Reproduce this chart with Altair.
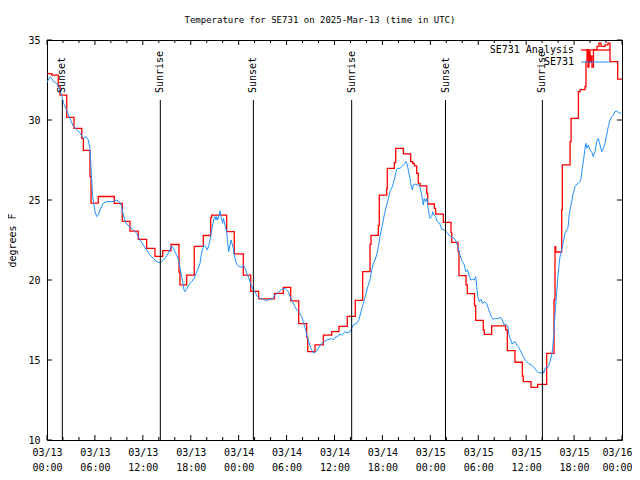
import altair as alt
import pandas as pd

FONT = "DejaVu Sans Mono"

title_text = "Temperature for SE731 on 2025-Mar-13 (time in UTC)"

# Hours since 2025-03-13 00:00 UTC
red_t = [0, 0.59, 1.41, 1.63, 2.47, 3.38, 4.35, 4.55, 5.38, 5.51,
         6.42, 8.43, 9.43, 10.39, 11.43, 12.48, 13.52, 14.49, 15.53, 16.53,
         16.65, 17.49, 18.44, 19.57, 20.5, 20.62, 22.5, 23.45, 24.58, 25.51,
         26.51, 28.49, 29.59, 30.52, 31.52, 32.52, 32.65, 33.56, 34.6, 35.65,
         36.56, 37.6, 38.6, 39.53, 40.45, 40.57, 41.49, 41.61, 42.54, 42.61,
         43.49, 43.66, 44.62, 45.54, 45.79, 45.99, 46.29, 46.49, 46.71, 47.55,
         47.67, 48.5, 48.67, 49.63, 50.59, 50.68, 51.47, 51.59, 52.47, 52.63,
         53.53, 53.68, 54.63, 54.76, 55.68, 57.44, 57.64, 58.6, 59.52, 59.64,
         60.61, 61.44, 62.57, 63.49, 63.61, 63.7, 64.45, 64.53, 65.5, 65.62,
         66.54, 66.76, 67.37, 67.49, 67.62, 67.74, 67.87, 67.99, 68.12, 68.24,
         68.43, 68.87, 69.12, 69.37, 69.62, 69.87, 70.25, 70.5, 71.46, 72]
red_v = [32.9, 32.8, 32.1, 31.55, 30.17, 29.48, 28.85, 28.1, 26.46, 24.8,
         25.22, 24.79, 23.67, 23.06, 22.54, 21.98, 21.48, 21.83, 22.22, 20.5,
         19.69, 20.31, 22.1, 22.78, 23.9, 24.06, 23.02, 21.63, 20.31, 19.29,
         18.82, 19.17, 19.54, 18.7, 17.27, 16.42, 15.52, 15.94, 16.56, 16.77,
         17.1, 17.73, 18.73, 20.52, 22.23, 22.79, 23.4, 25.31, 25.73, 26.98,
         27.33, 28.23, 27.88, 27.4, 27.29, 27.13, 26.67, 26.04, 25.88, 25.42,
         24.75, 24.48, 24.12, 23.6, 22.96, 22.35, 21.77, 20.27, 19.7, 19.15,
         18.4, 17.48, 16.88, 16.6, 17.13, 16.88, 15.58, 14.86, 14.0, 13.65,
         13.29, 13.48, 15.42, 18.75, 22.08, 21.75, 24.4, 27.19, 28.65, 30.1,
         31.77, 31.9, 32.08, 33.65, 34.4, 33.3, 34.3, 33.6, 34.0, 33.3,
         34.4, 34.6, 34.8, 34.6, 34.6, 34.7, 34.8, 33.65, 32.55, 32.55]

blue_t = [0, 0.38, 0.59, 0.79, 1.21, 1.41, 1.84, 2.04, 2.47, 2.88,
          3.29, 3.72, 4.13, 4.55, 4.88, 5.17, 5.38, 5.47, 5.6, 5.72,
          6.01, 6.22, 6.42, 6.64, 7.05, 7.48, 8.3, 8.73, 9.05, 9.35,
          9.55, 9.89, 10.39, 10.81, 11.23, 11.65, 12.06, 12.48, 12.9, 13.31,
          13.74, 14.15, 14.36, 14.77, 15.19, 15.61, 15.82, 16.03, 16.32, 16.57,
          16.74, 16.99, 17.16, 17.28, 17.49, 17.69, 17.91, 18.12, 18.41, 18.66,
          18.95, 19.16, 19.28, 19.45, 19.66, 19.87, 20.07, 20.25, 20.41, 20.54,
          20.75, 20.91, 21.04, 21.16, 21.25, 21.37, 21.54, 21.66, 21.79, 21.91,
          22.0, 22.08, 22.2, 22.33, 22.5, 22.63, 22.75, 22.92, 23.04, 23.17,
          23.33, 23.45, 23.63, 23.83, 23.96, 24.38, 24.58, 24.79, 25.01, 25.29,
          25.54, 25.83, 26.13, 26.38, 26.67, 27.09, 27.51, 27.92, 28.34, 28.46,
          28.76, 29.05, 29.39, 29.8, 30.02, 30.22, 30.43, 30.64, 30.84, 31.05,
          31.27, 31.47, 31.68, 31.89, 32.09, 32.22, 32.39, 32.52, 32.72, 32.93,
          33.15, 33.35, 33.56, 33.77, 33.97, 34.18, 34.4, 34.72, 35.02, 35.31,
          35.65, 35.85, 36.06, 36.28, 36.48, 36.69, 36.9, 37.1, 37.32, 37.57,
          37.94, 38.15, 38.35, 38.78, 39.07, 39.32, 39.61, 39.91, 40.16, 40.45,
          40.66, 40.86, 41.07, 41.28, 41.49, 41.7, 41.91, 42.11, 42.32, 42.54,
          42.74, 42.95, 43.16, 43.36, 43.58, 43.7, 43.86, 44.2, 44.41, 44.62,
          44.83, 44.95, 45.12, 45.24, 45.45, 45.58, 45.74, 45.87, 46.08, 46.42,
          46.58, 46.74, 46.92, 47.12, 47.25, 47.42, 47.58, 47.75, 47.96, 48.17,
          48.3, 48.46, 48.67, 48.87, 49.21, 49.42, 49.75, 50.05, 50.34, 50.68,
          51.0, 51.21, 51.43, 51.59, 51.84, 52.0, 52.26, 52.43, 52.68, 52.88,
          53.09, 53.31, 53.51, 53.68, 53.81, 53.94, 54.14, 54.35, 54.56, 54.76,
          55.06, 55.26, 55.47, 55.68, 55.89, 56.19, 56.52, 56.81, 57.02, 57.23,
          57.44, 57.69, 57.85, 58.06, 58.27, 58.39, 58.6, 58.82, 59.02, 59.23,
          59.44, 59.64, 59.85, 60.06, 60.27, 60.48, 60.69, 60.89, 61.1, 61.31,
          61.52, 61.73, 61.94, 62.07, 62.2, 62.36, 62.7, 62.86, 62.98, 63.2,
          63.32, 63.45, 63.52, 63.61, 63.73, 63.86, 63.99, 64.11, 64.24, 64.36,
          64.53, 64.7, 64.86, 65.08, 65.2, 65.28, 65.36, 65.49, 65.7, 65.9,
          66.12, 66.33, 66.53, 66.74, 66.87, 67.03, 67.21, 67.37, 67.49, 67.62,
          67.78, 67.99, 68.2, 68.4, 68.62, 68.83, 69.03, 69.25, 69.46, 69.66,
          69.87, 70.08, 70.28, 70.5, 70.71, 70.91, 71.12, 71.33, 71.54, 71.87]
blue_v = [32.35, 32.7, 32.6, 32.4, 32.3, 32.1, 31.56, 31.1, 30.6, 30.1,
          29.6, 29.4, 29.2, 28.85, 28.96, 28.75, 28.2, 27.4, 26.25, 25.2,
          24.27, 23.96, 24.06, 24.38, 24.8, 24.9, 24.9, 25.0, 24.9, 24.58,
          24.06, 23.54, 23.33, 23.13, 22.92, 22.5, 22.19, 21.88, 21.56, 21.35,
          21.15, 21.08, 21.15, 21.35, 21.67, 22.13, 21.98, 21.77, 21.46, 21.04,
          20.52, 19.9, 19.38, 19.27, 19.42, 19.63, 19.79, 19.9, 20.1, 20.42,
          20.73, 21.04, 21.46, 21.88, 22.19, 22.08, 21.88, 22.13, 22.5, 22.92,
          23.44, 23.85, 23.96, 23.75, 23.96, 23.75, 24.0, 24.33, 23.96, 23.75,
          23.54, 23.85, 23.65, 23.33, 23.02, 22.29, 21.77, 22.19, 22.5, 22.29,
          21.98, 21.56, 21.15, 20.94, 20.88, 20.79, 20.94, 20.73, 20.42, 20.1,
          19.69, 19.38, 19.17, 18.96, 18.85, 18.79, 18.71, 18.79, 18.85, 19.06,
          19.13, 19.27, 19.42, 19.48, 19.38, 19.27, 18.96, 18.75, 18.54, 18.33,
          18.13, 18.02, 17.92, 17.71, 17.4, 17.19, 16.88, 16.56, 16.25, 15.88,
          15.63, 15.46, 15.46, 15.58, 15.73, 15.88, 16.04, 16.15, 16.25, 16.29,
          16.35, 16.25, 16.42, 16.46, 16.5, 16.63, 16.56, 16.67, 16.77, 16.7,
          16.77, 16.98, 17.19, 17.29, 17.54, 18.02, 18.54, 19.06, 19.58, 20.0,
          20.63, 21.04, 21.25, 21.56, 22.08, 22.71, 23.23, 23.75, 24.27, 24.69,
          25.1, 25.52, 25.73, 26.04, 26.46, 26.77, 26.98, 26.98, 27.08, 27.19,
          27.29, 27.4, 27.19, 26.88, 26.35, 25.94, 25.63, 25.94, 26.0, 25.94,
          25.94, 25.73, 25.31, 24.69, 25.1, 24.9, 25.1, 24.38, 23.85, 23.96,
          24.27, 24.06, 23.96, 23.65, 23.5, 23.17, 23.13, 22.96, 22.81, 22.67,
          22.6, 22.44, 22.08, 21.77, 21.35, 21.15, 20.94, 20.52, 20.63, 20.21,
          20.0, 20.04, 20.0, 20.21, 19.58, 18.96, 18.65, 18.79, 18.54, 18.65,
          18.54, 18.23, 17.92, 17.67, 17.54, 17.6, 17.6, 17.67, 17.5, 17.19,
          17.25, 17.13, 16.56, 16.25, 16.0, 16.08, 16.15, 15.94, 15.83, 15.63,
          15.42, 15.21, 15.04, 14.9, 14.79, 14.73, 14.69, 14.58, 14.48, 14.31,
          14.21, 14.21, 14.17, 14.33, 14.17, 14.48, 14.52, 14.69, 14.9, 15.31,
          15.73, 16.56, 17.08, 17.81, 18.65, 19.48, 20.31, 20.94, 21.46, 21.67,
          22.08, 22.5, 22.92, 23.13, 23.23, 23.44, 23.96, 24.38, 24.9, 25.42,
          25.83, 25.98, 26.04, 26.15, 26.35, 26.98, 27.6, 28.23, 28.54, 28.23,
          28.44, 28.13, 28.02, 27.71, 28.02, 28.65, 28.85, 28.44, 28.02, 28.23,
          28.54, 29.06, 29.58, 30.0, 30.21, 30.31, 30.52, 30.56, 30.48, 30.42]

sun_t = [1.92, 14.19, 25.84, 38.15, 49.9, 62.03]
sun_label = ["Sunset", "Sunrise", "Sunset", "Sunrise", "Sunset", "Sunrise"]

major_ticks = [0, 6, 12, 18, 24, 30, 36, 42, 48, 54, 60, 66, 72]
minor_ticks = [2, 4, 8, 10, 14, 16, 20, 22, 26, 28, 32, 34, 38, 40, 44, 46, 50, 52, 56, 58, 62, 64, 68, 70]
y_ticks = [10, 15, 20, 25, 30, 35]

legend_names = ["SE731 Analysis", "SE731"]
legend_colors = ["#ff0000", "#1e90ff"]

assert len(red_t) == len(red_v)
assert len(blue_t) == len(blue_v)

red_df = pd.DataFrame({"t": red_t, "v": red_v})
blue_df = pd.DataFrame({"t": blue_t, "v": blue_v})
sun_df = pd.DataFrame({"t": sun_t, "label": sun_label})

label_expr = ("['03/' + (13 + floor(datum.value / 24)), "
              "(datum.value % 24 < 10 ? '0' : '') + (datum.value % 24) + ':00']")

x_axis = alt.Axis(values=major_ticks, labelExpr=label_expr, ticks=False, domain=False,
                  grid=False, labelPadding=7, labelFont=FONT, labelFontSize=10,
                  labelColor="black", labelFlush=False, labelOverlap=False,
                  labelLineHeight=15, labelBaseline="top", title=None,
                  labelAlign={"condition": {"test": "datum.value == 72", "value": "right"},
                              "value": "center"},
                  labelOffset={"condition": {"test": "datum.value == 72", "value": 10},
                               "value": 0})
X = alt.X("t:Q", scale=alt.Scale(domain=[0, 72], nice=False, zero=False), axis=x_axis)

y_axis = alt.Axis(values=y_ticks, ticks=False, domain=False, grid=False, labelPadding=7,
                  labelFont=FONT, labelFontSize=10, labelColor="black",
                  title="degrees F", titleFont=FONT, titleFontSize=10,
                  titleFontWeight="normal", titleColor="black", titlePadding=10)
Y = alt.Y("v:Q", scale=alt.Scale(domain=[10, 35], nice=False, zero=False), axis=y_axis)

red_line = alt.Chart(red_df).mark_line(interpolate="step-after", color="#ff0000",
                                       strokeWidth=1.3, clip=True).encode(x=X, y=Y)
blue_line = alt.Chart(blue_df).mark_line(color="#1e90ff", strokeWidth=1, clip=True).encode(x=X, y=Y)

sun_rules = alt.Chart(sun_df).mark_rule(color="black", strokeWidth=1).encode(
    x=X, y=alt.value(60), y2=alt.value(400))
sun_text = alt.Chart(sun_df).mark_text(angle=270, align="left", baseline="middle",
                                       font=FONT, fontSize=10, color="black").encode(
    x=X, y=alt.value(53), text="label:N")

maj_df = pd.DataFrame({"t": major_ticks})
min_df = pd.DataFrame({"t": minor_ticks})
yt_df = pd.DataFrame({"v": y_ticks})

tick_layers = [
    alt.Chart(maj_df).mark_rule(color="black").encode(x=X, y=alt.value(400), y2=alt.value(395)),
    alt.Chart(maj_df).mark_rule(color="black").encode(x=X, y=alt.value(0), y2=alt.value(5)),
    alt.Chart(min_df).mark_rule(color="black").encode(x=X, y=alt.value(400), y2=alt.value(397)),
    alt.Chart(min_df).mark_rule(color="black").encode(x=X, y=alt.value(0), y2=alt.value(3)),
    alt.Chart(yt_df).mark_rule(color="black").encode(y=Y, x=alt.value(0), x2=alt.value(5)),
    alt.Chart(yt_df).mark_rule(color="black").encode(y=Y, x=alt.value(570), x2=alt.value(575)),
]

legend_layers = []
for i, (name, col) in enumerate(zip(legend_names, legend_colors)):
    ldf = pd.DataFrame({"name": [name]})
    legend_layers.append(
        alt.Chart(ldf).mark_text(align="right", baseline="middle", font=FONT, fontSize=10,
                                 color="black").encode(
            x=alt.value(527), y=alt.value(10 + 12 * i), text="name:N"))
    legend_layers.append(
        alt.Chart(ldf).mark_rule(color=col, strokeWidth=1.3 if i == 0 else 1).encode(
            x=alt.value(534), x2=alt.value(563), y=alt.value(10 + 12 * i)))

chart = alt.layer(
    red_line, blue_line, sun_rules, sun_text, *tick_layers, *legend_layers
).properties(
    width=575, height=400,
    title=alt.TitleParams(title_text, font=FONT, fontSize=9, fontWeight="normal",
                          color="black", anchor="middle", frame="bounds", offset=10),
    autosize=alt.AutoSizeParams(type="none"),
    padding={"left": 39, "top": 32, "right": 10, "bottom": 32},
    background="white",
).configure_view(stroke="black", strokeWidth=1)

chart.save("out.html", embed_options={"renderer": "svg", "actions": False})
